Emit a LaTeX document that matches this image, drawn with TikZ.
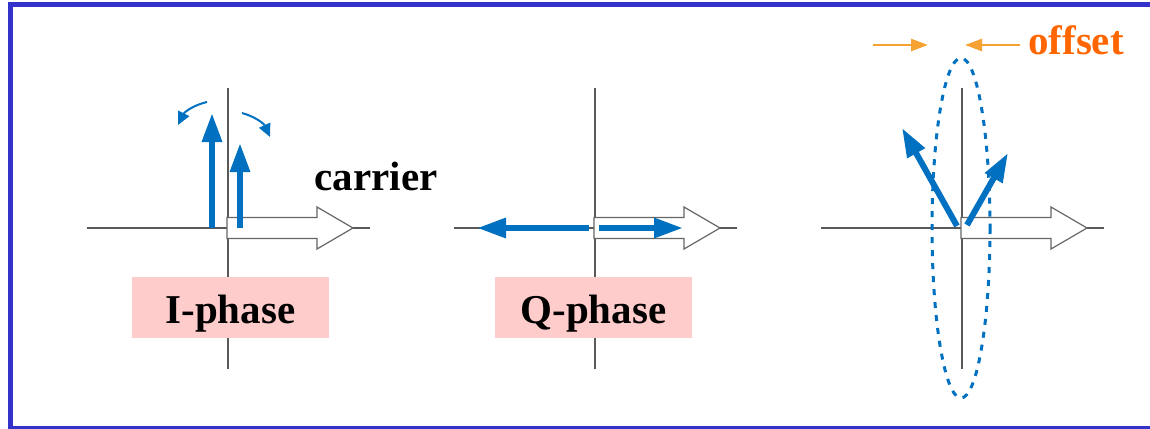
\documentclass[tikz,border=0pt]{standalone}
\usepackage{fontspec}
\setmainfont{Liberation Serif}
\usepackage{tikz}
\usetikzlibrary{arrows.meta,positioning,calc}

\definecolor{vecblue}{RGB}{0,112,192}
\definecolor{gaporange}{RGB}{245,162,50}
\definecolor{txtorange}{RGB}{255,102,0}
\definecolor{frameblue}{RGB}{51,51,204}
\definecolor{labelpink}{RGB}{255,204,204}

\begin{document}
\begin{tikzpicture}[
  x=1pt, y=-1pt,
  axis/.style={draw=black!65, line width=1.3pt},
  carrierarrow/.style={draw=black!60, fill=white, line width=1.2pt},
  vec/.style={draw=vecblue, line width=6pt, -{Triangle[length=29pt,width=19pt]}},
  spin/.style={draw=vecblue, line width=2pt, -{Triangle[length=13pt,width=12pt]}},
  gap/.style={draw=gaporange, line width=2.5pt, -{Triangle[length=17pt,width=12pt]}},
  phaselabel/.style={fill=labelpink, minimum width=197pt, inner sep=0pt,
    text height=46pt, text depth=15pt, font=\fontsize{41}{41}\selectfont\bfseries},
  bigtext/.style={inner sep=0pt, font=\fontsize{41}{41}\selectfont\bfseries}
]
  \useasboundingbox (0,0) rectangle (1150,428);
  \begin{scope}
    \clip (0,0) rectangle (1150,428);
    \draw[frameblue, line width=5pt] (10.5,4.8) rectangle (1170,428);
  \end{scope}

  % axes and carrier of each panel
  \foreach \n/\x in {1/228,2/595,3/962}{
    \coordinate (o\n) at (\x,228);
    \coordinate (top\n) at (\x,88);
    \coordinate (bot\n) at (\x,369);
    \coordinate (lft\n) at (\x-141,228);
    \coordinate (rgt\n) at (\x+142,228);
    \draw[axis] (top\n) -- (bot\n);
    \draw[axis] (lft\n) -- (rgt\n);
    \draw[carrierarrow] (o\n) ++(-1,-10.5) -- ++(90,0) -- ++(0,-10.5) -- ++(36,21)
      -- ++(-36,21) -- ++(0,-10.5) -- ++(-90,0) -- cycle;
  }

  % I-phase
  \draw[vec] ([xshift=-16pt]o1) -- ++(0,-115);
  \draw[vec] ([xshift=12pt]o1) -- ++(0,-85);
  \draw[spin] ($(o1)+(-21,-126)$) to[bend right=25] ++(-29,23);
  \draw[spin] ($(o1)+(14,-115)$) to[bend left=25] ++(28,24);
  \node[bigtext, anchor=base] (carrier) at (376,190) {carrier};
  \node[phaselabel] (iphase) at (230.5,307.5) {I-phase};

  % Q-phase
  \draw[vec] ([xshift=-6pt]o2) -- ++(-112,0);
  \draw[vec] ([xshift=4pt]o2) -- ++(84,0);
  \node[phaselabel] (qphase) at (593.5,307.5) {Q-phase};

  % offset
  \draw[vec] ([shift={(-5,-2)}]o3) -- ++(-55,-98);
  \draw[vec] ([shift={(5,-3)}]o3) -- ++(41,-72);
  \draw[vecblue, line width=3pt, dash pattern=on 6pt off 7pt]
    ([xshift=-1pt]o3) ellipse[x radius=29, y radius=170];
  \coordinate (gapL) at (873,45);
  \coordinate (gapR) at (1020,45);
  \draw[gap] (gapL) -- ++(55,0);
  \draw[gap] (gapR) -- ++(-55,0);
  \node[bigtext, text=txtorange, anchor=base west] (offset) at (1028,55) {offset};
\end{tikzpicture}
\end{document}
